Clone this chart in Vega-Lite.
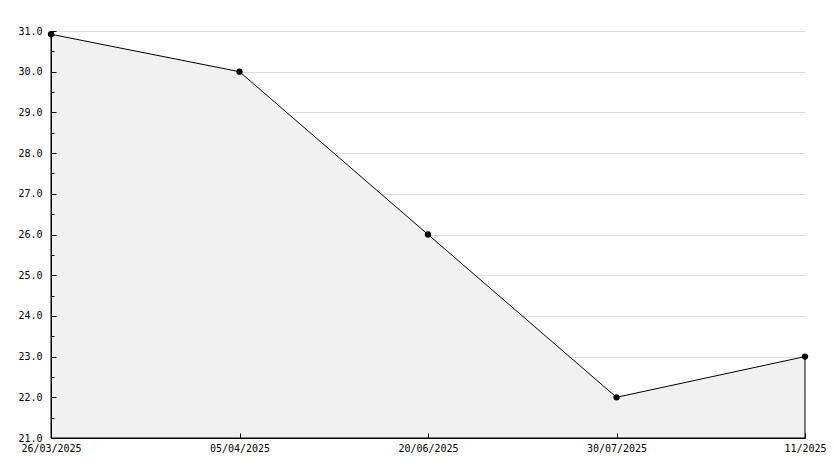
{
  "$schema": "https://vega.github.io/schema/vega-lite/v6.json",
  "width": 754,
  "height": 407,
  "autosize": "none",
  "padding": {"left": 51, "top": 31, "right": 29, "bottom": 30},
  "background": "white",
  "config": {"view": {"stroke": null}, "font": "DejaVu Sans Mono"},
  "data": {
    "values": [
      {"label": "26/03/2025", "value": 30.92},
      {"label": "05/04/2025", "value": 30.0},
      {"label": "20/06/2025", "value": 26.0},
      {"label": "30/07/2025", "value": 22.0},
      {"label": "11/2025", "value": 23.0}
    ]
  },
  "resolve": {"axis": {"y": "independent"}},
  "encoding": {
    "x": {
      "field": "label",
      "type": "ordinal",
      "sort": null,
      "scale": {"type": "point", "padding": 0},
      "axis": {
        "title": null,
        "labelAngle": 0,
        "tickSize": -5,
        "tickColor": "black",
        "domainColor": "black",
        "labelColor": "black",
        "labelFont": "DejaVu Sans Mono",
        "labelFontSize": 10,
        "labelFontWeight": "normal",
        "labelPadding": 10,
        "grid": false,
        "labelOverlap": false,
        "labelBound": false,
        "labelFlush": false,
        "zindex": 1
      }
    }
  },
  "layer": [
    {
      "mark": {"type": "area", "fill": "#f1f1f1", "stroke": "black", "strokeWidth": 1},
      "encoding": {
        "y": {
          "field": "value",
          "type": "quantitative",
          "scale": {"domain": [21, 31], "nice": false, "zero": false},
          "axis": {
            "orient": "left",
            "title": null,
            "values": [21, 22, 23, 24, 25, 26, 27, 28, 29, 30, 31],
            "labels": false,
            "ticks": false,
            "domain": false,
            "grid": true,
            "gridColor": "#dcdcdc",
            "zindex": 0
          }
        },
        "y2": {"datum": 21}
      }
    },
    {
      "mark": {"type": "point", "filled": true, "color": "black", "size": 40, "opacity": 1},
      "encoding": {
        "y": {
          "field": "value",
          "type": "quantitative",
          "scale": {"domain": [21, 31], "nice": false, "zero": false},
          "axis": {
            "orient": "left",
            "title": null,
            "values": [21, 21.5, 22, 22.5, 23, 23.5, 24, 24.5, 25, 25.5, 26, 26.5, 27, 27.5, 28, 28.5, 29, 29.5, 30, 30.5, 31],
            "labelExpr": "datum.value % 1 === 0 ? format(datum.value, '.1f') : ''",
            "tickSize": {"condition": {"test": "datum.value % 1 === 0", "value": -5}, "value": -3},
            "tickColor": "black",
            "domainColor": "black",
            "labelColor": "black",
            "labelFont": "DejaVu Sans Mono",
            "labelFontSize": 10,
            "labelFontWeight": "normal",
            "labelPadding": 14,
            "grid": false,
            "labelOverlap": false,
            "labelBound": false,
            "labelFlush": false,
            "zindex": 1
          }
        }
      }
    }
  ]
}
